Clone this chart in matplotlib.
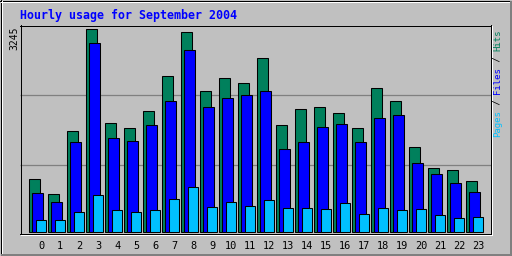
import matplotlib
matplotlib.use("Agg")
import matplotlib.pyplot as plt
from matplotlib.lines import Line2D
import numpy as np

hours = [str(h) for h in range(24)]
hits = [847, 607, 1614, 3245, 1742, 1662, 1934, 2494, 3197, 2254, 2461, 2382,
        2781, 1710, 1966, 1998, 1902, 1662, 2302, 2094, 1359, 1023, 991, 815]
files = [623, 480, 1439, 3021, 1502, 1455, 1710, 2094, 2909, 1998, 2142, 2190,
         2254, 1327, 1439, 1678, 1726, 1439, 1822, 1870, 1103, 927, 783, 639]
pages = [192, 192, 320, 591, 352, 320, 352, 527, 719, 400, 480, 416,
         511, 384, 384, 368, 464, 288, 384, 352, 368, 272, 224, 240]
max_label = "3245"
title = "Hourly usage for September 2004"

BG = "#c0c0c0"
HITC = "#00805c"
FILEC = "#0000ff"
PAGEC = "#00c0ff"
W, H = 512, 256
MONO = "DejaVu Sans Mono"

fig = plt.figure(figsize=(W / 100, H / 100), dpi=100, facecolor=BG)

# main axes: pixels x 20..491, y 25..234
ax = fig.add_axes([20 / W, (H - 234.3) / H, 471 / W, 209 / H], facecolor=BG)
for s in ax.spines.values():
    s.set_visible(False)

x = np.arange(24)
bw = 10.4 / 19
lw = 0.75
ax.bar(x, hits, width=bw, align="edge", color=HITC, edgecolor="black", linewidth=lw, zorder=3)
ax.bar(x + 3 / 19, files, width=bw, align="edge", color=FILEC, edgecolor="black", linewidth=lw, zorder=4)
ax.bar(x + 6.4 / 19, pages, width=bw, align="edge", color=PAGEC, edgecolor="black", linewidth=lw, zorder=5)

for f in (1 / 3, 2 / 3):
    ax.plot([0, 1], [f, f], transform=ax.transAxes, color="#808080", lw=0.9, zorder=1, solid_capstyle="butt")

ax.set_xlim(-9.3 / 19, (491 - 29.3) / 19 - 0.49 + 0.49)
ax.set_ylim(-29, 3309)
ax.set_xticks(x + 12 / 19)
ax.set_xticklabels(hours, family=MONO, fontsize=7.4, color="black")
ax.tick_params(axis="x", length=0, pad=4.5)
ax.set_yticks([])

# overlay for frames and texts in pixel coords
ov = fig.add_axes([0, 0, 1, 1], facecolor="none")
ov.set_xlim(0, W)
ov.set_ylim(H, 0)
ov.axis("off")

def hline(y, x0, x1, c):
    ov.add_line(Line2D([x0, x1 + 1], [y + 0.5, y + 0.5], color=c, lw=0.72, antialiased=False, solid_capstyle="butt"))

def vline(xp, y0, y1, c):
    ov.add_line(Line2D([xp + 0.5, xp + 0.5], [y0, y1 + 1], color=c, lw=0.72, antialiased=False, solid_capstyle="butt"))

# outer frame
hline(0, 0, 511, "black"); vline(0, 0, 255, "black")
hline(1, 1, 509, "white"); vline(1, 1, 253, "white")
hline(253, 1, 510, "#808080"); hline(254, 1, 510, "#808080")
vline(509, 1, 254, "#808080"); vline(510, 1, 254, "#808080")
hline(255, 0, 511, "black"); vline(511, 0, 255, "black")

# inner frame
hline(25, 20, 490, "black"); vline(20, 25, 233, "black")
hline(233, 20, 490, "black"); vline(490, 25, 233, "black")
hline(234, 21, 491, "white"); vline(491, 26, 234, "white")

# title
ov.text(20, 15, title, color="#0000ff", family=MONO, fontweight="bold",
        fontsize=8.4, ha="left", va="center")

# max label
ov.text(14, 50, max_label, color="black", family=MONO, fontsize=7.0,
        rotation=90, rotation_mode="anchor", ha="left", va="center")

# right legend
parts = [("Pages", PAGEC), (" / ", "black"), ("Files", FILEC), (" / ", "black"), ("Hits", HITC)]
cw = 5.4
pos = 137
for txt, c in parts:
    ov.text(497.5, pos, txt, color=c, family=MONO, fontsize=6.5,
            rotation=90, rotation_mode="anchor", ha="left", va="center")
    pos -= cw * len(txt)

fig.savefig("out.png", dpi=100, facecolor=BG)
